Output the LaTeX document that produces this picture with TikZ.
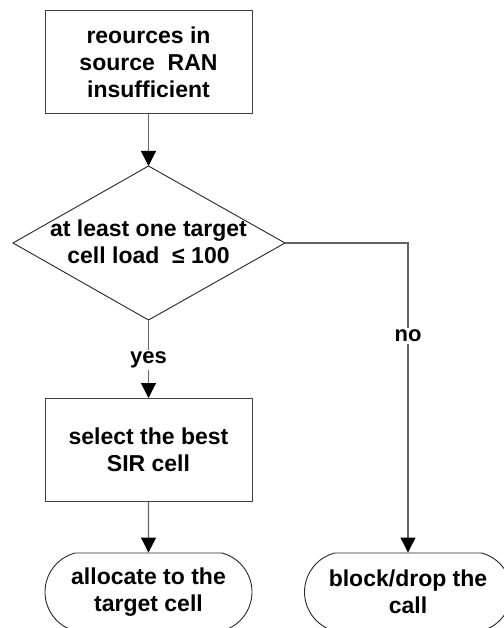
\documentclass[tikz,border=0pt]{standalone}
\usepackage{fontspec}
\setmainfont{Liberation Sans}
\usetikzlibrary{arrows.meta,shapes.misc}
\begin{document}
\begin{tikzpicture}[x=1pt,y=-1pt,
  every node/.style={font=\bfseries\fontsize{23}{27}\selectfont, align=center},
  procbox/.style={draw=black!75, line width=1pt, minimum width=207pt, minimum height=103pt, inner sep=0pt},
  terminal/.style={rounded rectangle, rounded rectangle arc length=150, draw=black!85, line width=0.9pt,
    minimum width=207pt, minimum height=78pt, inner sep=0pt},
  outline/.style={draw=black!85, line width=0.9pt},
  flow/.style={draw=black!60, line width=1.1pt, -{Triangle[length=15pt,width=15pt,color=black]}},
  lbl/.style={fill=white, inner sep=2pt, font=\bfseries\fontsize{22}{26}\selectfont}
]
\useasboundingbox (0,0) rectangle (503,628);

% start condition
\node[procbox] (src) at (148.5,62.5) {reources in\\source\ \ RAN\\insufficient};

% decision diamond
\coordinate (dN) at (148.5,166);
\coordinate (dE) at (285,243);
\coordinate (dS) at (148.5,320);
\coordinate (dW) at (13,243);
\draw[outline] (dN) -- (dE) -- (dS) -- (dW) -- cycle;
\node (dec) at (148.5,242) {at least one target\\cell load\ \ ≤ 100};

% yes branch
\node[procbox] (sel) at (148.5,450) {select the best\\SIR cell};
\node[terminal] (alloc) at (148.5,592) {allocate to the\\target cell};

% no branch
\node[terminal] (drop) at (408,592) {block/drop the\\call};

% connectors
\draw[flow] (src) -- (dN);
\draw[flow] (dS) -- node[lbl,pos=0.51]{yes} (sel.north);
\draw[flow] (sel) -- (alloc);
\draw[flow] (dE) -| node[lbl,pos=0.65]{no} (drop.north);
\end{tikzpicture}
\end{document}
